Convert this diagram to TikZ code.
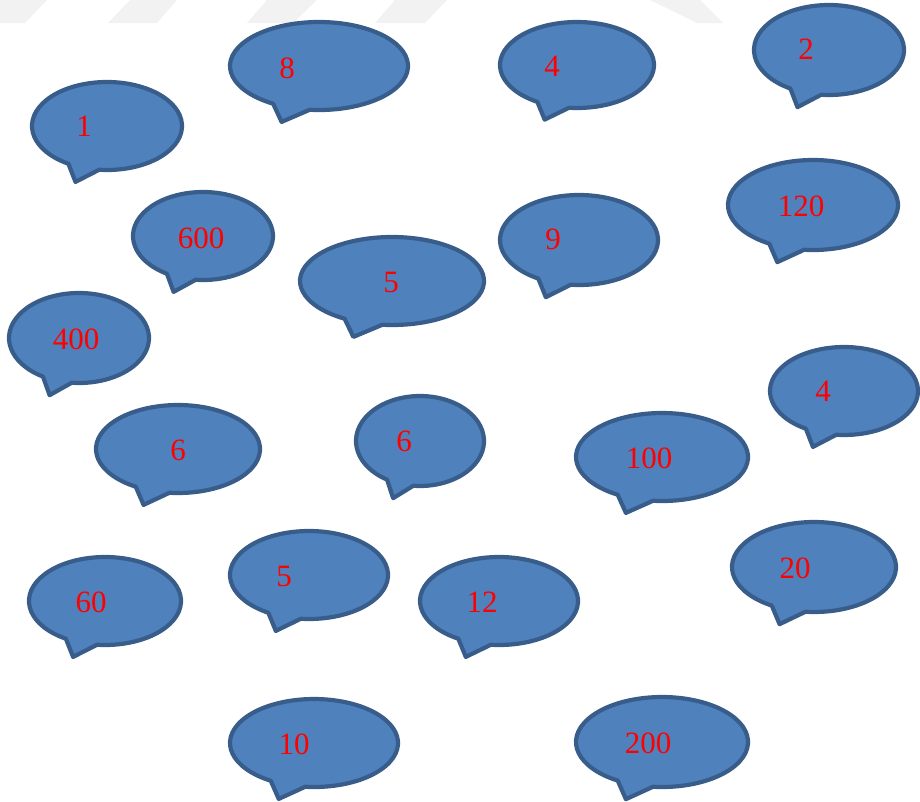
\documentclass[tikz,border=0pt]{standalone}
\usepackage{fontspec}
\setmainfont{Liberation Serif}
\usetikzlibrary{calc}
\definecolor{bubfill}{HTML}{4F81BD}
\definecolor{bubline}{HTML}{385D8A}
\definecolor{wmark}{HTML}{F2F2F2}
\tikzset{
  bub/.style={fill=bubfill, draw=bubline, line width=4.2pt, line join=round},
  lbl/.style={text=red, inner sep=0pt, font=\fontsize{31}{37}\selectfont},
  stripe/.style={fill=wmark, draw=none}
}
% speech bubble: name, centre x, centre y, x radius, y radius, text, text x, text y
\newcommand\speechbubble[8]{%
  \draw[bub] ($(#2,#3)+(121:#4 and #5)$)
    arc[start angle=121, end angle=456, x radius=#4, y radius=#5]
    -- ($(#2,#3)+(-0.42*#4,1.27*#5)$) -- cycle;
  \node[lbl] (#1) at (#7,#8) {#6};
}
\begin{document}
\begin{tikzpicture}[x=1pt,y=-1pt]
\useasboundingbox (0,0) rectangle (920,801);
% faint watermark band along the top edge
\fill[stripe] (0,0) -- (47,0) -- (25,23) -- (0,23) -- cycle;
\fill[stripe] (130,0) -- (177,0) -- (157,23) -- (108,23) -- cycle;
\fill[stripe] (267,0) -- (317,0) -- (293,23) -- (247,23) -- cycle;
\fill[stripe] (395,0) -- (447,0) -- (425,23) -- (375,23) -- cycle;
\fill[stripe] (650,0) -- (700,0) -- (723,23) -- (697,23) -- cycle;
% bubbles
\speechbubble{b8}{319}{66}{89}{44}{8}{287}{68}
\speechbubble{b4a}{577}{65}{77}{43}{4}{552}{66}
\speechbubble{b2}{829}{50}{75}{45}{2}{806}{49}
\speechbubble{b1}{107}{126}{75}{44}{1}{84}{126}
\speechbubble{b600}{203}{236}{70}{44}{600}{201}{238}
\speechbubble{b5a}{392}{281}{92}{44}{5}{391}{282}
\speechbubble{b9}{579}{240}{79}{45}{9}{553}{239}
\speechbubble{b120}{813}{205}{85}{45}{120}{801}{206}
\speechbubble{b400}{79}{338}{70}{45}{400}{76}{339}
\speechbubble{b6a}{178}{449}{82}{44}{6}{178}{450}
\speechbubble{b6b}{420}{441}{64}{45}{6}{404}{441}
\speechbubble{b100}{662}{457}{86}{44}{100}{649}{458}
\speechbubble{b4b}{844}{391}{74}{44}{4}{823}{391}
\speechbubble{b60}{105}{601}{76}{44}{60}{91}{602}
\speechbubble{b5b}{309}{575}{79}{44}{5}{284}{576}
\speechbubble{b12}{499}{601}{79}{44}{12}{482}{602}
\speechbubble{b20}{814}{567}{82}{45}{20}{795}{568}
\speechbubble{b10}{314}{743}{84}{44}{10}{294}{744}
\speechbubble{b200}{662}{742}{86}{45}{200}{648}{743}
\end{tikzpicture}
\end{document}
